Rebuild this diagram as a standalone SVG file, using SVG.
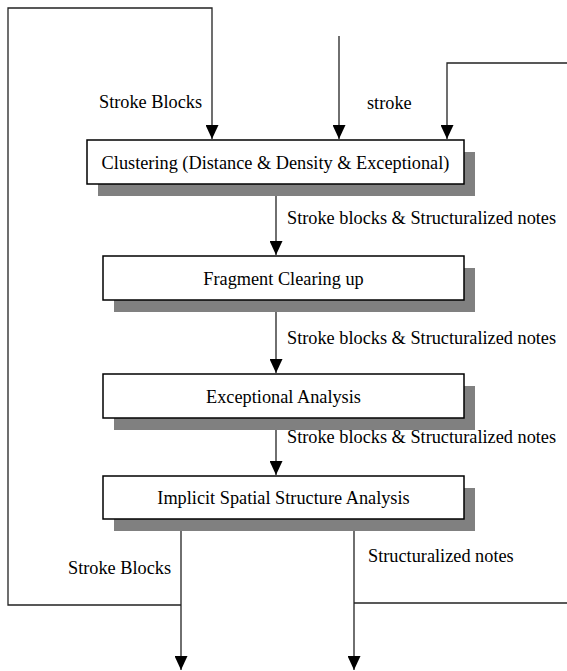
<svg xmlns="http://www.w3.org/2000/svg" width="567" height="671" viewBox="0 0 567 671">
<style>
.box{fill:#fff;stroke:#000;stroke-width:1.5}
.sh{fill:#808080}
.ln{fill:none;stroke:#222;stroke-width:1.3}
.t{font-family:"Liberation Serif","Times New Roman",serif;font-size:18.3px;fill:#000}
.c{text-anchor:middle}
</style>
<defs>
<marker id="ah" viewBox="0 0 14 13" refX="14" refY="6.5" markerWidth="14" markerHeight="13" markerUnits="userSpaceOnUse" orient="auto">
<path d="M0,0 L14,6.5 L0,13 Z" fill="#000"/>
</marker>
</defs>
<g id="connectors">
<path class="ln" d="M181,605 L8,605 L8,8 L212,8 L212,139" marker-end="url(#ah)"/>
<path class="ln" d="M339,36 L339,139" marker-end="url(#ah)"/>
<path class="ln" d="M567,63 L447,63 L447,139" marker-end="url(#ah)"/>
<path class="ln" d="M276,184 L276,255" marker-end="url(#ah)"/>
<path class="ln" d="M276,300 L276,373" marker-end="url(#ah)"/>
<path class="ln" d="M276,418 L276,475" marker-end="url(#ah)"/>
<path class="ln" d="M181,519 L181,670" marker-end="url(#ah)"/>
<path class="ln" d="M354,519 L354,670" marker-end="url(#ah)"/>
<path class="ln" d="M354,603 L567,603"/>
<text class="t" x="99" y="108">Stroke Blocks</text>
<text class="t" x="367" y="109">stroke</text>
<text class="t" x="287" y="224">Stroke blocks &amp; Structuralized notes</text>
<text class="t" x="287" y="344">Stroke blocks &amp; Structuralized notes</text>
<text class="t" x="287" y="443">Stroke blocks &amp; Structuralized notes</text>
<text class="t" x="68" y="574">Stroke Blocks</text>
<text class="t" x="368" y="562">Structuralized notes</text>
</g>
<g id="n1">
<rect class="sh" x="98" y="152" width="377" height="44"/>
<rect class="box" x="87" y="140" width="377" height="44"/>
<text class="t c" x="275.5" y="169">Clustering (Distance &amp; Density &amp; Exceptional)</text>
</g>
<g id="n2">
<rect class="sh" x="114" y="268" width="361" height="44"/>
<rect class="box" x="103" y="256" width="361" height="44"/>
<text class="t c" x="283.5" y="285">Fragment Clearing up</text>
</g>
<g id="n3">
<rect class="sh" x="114" y="386" width="361" height="44"/>
<rect class="box" x="103" y="374" width="361" height="44"/>
<text class="t c" x="283.5" y="403">Exceptional Analysis</text>
</g>
<g id="n4">
<rect class="sh" x="114" y="488" width="361" height="43"/>
<rect class="box" x="103" y="476" width="361" height="43"/>
<text class="t c" x="283.5" y="504">Implicit Spatial Structure Analysis</text>
</g>
</svg>
